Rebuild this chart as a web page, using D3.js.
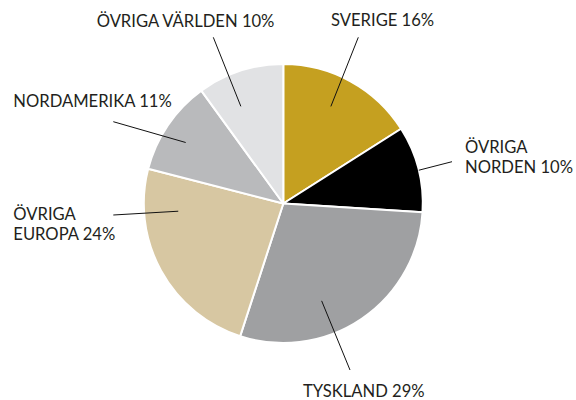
<!DOCTYPE html>
<html>
<head>
<meta charset="utf-8">
<script src="https://cdn.jsdelivr.net/npm/d3@7"></script>
<style>
  html, body { margin: 0; padding: 0; background: #fff; }
  svg { display: block; }
</style>
</head>
<body>
<div id="chart"></div>
<script>
// data, clockwise from 12 o'clock
const categories = ['SVERIGE', 'ÖVRIGA NORDEN', 'TYSKLAND', 'ÖVRIGA EUROPA', 'NORDAMERIKA', 'ÖVRIGA VÄRLDEN'];
const values = [16, 10, 29, 24, 11, 10];
const labelLines = [
  ['SVERIGE 16%'],
  ['ÖVRIGA', 'NORDEN 10%'],
  ['TYSKLAND 29%'],
  ['ÖVRIGA', 'EUROPA 24%'],
  ['NORDAMERIKA 11%'],
  ['ÖVRIGA VÄRLDEN 10%']
];
const colors = ['#c5a020', '#000000', '#9fa0a2', '#d7c7a2', '#b9babc', '#e1e2e4'];

// label placement: inner end of leader (angle in degrees clockwise from top, radius fraction),
// outer end of leader and text origin in page px
const labelLayout = [
  { a: 26.1, rf: 0.775, end: [358.3, 37.3], text: [331, 25.7] },
  { a: 76.2, rf: 1.0, end: [452, 161.7], text: [465, 153.3] },
  { a: 158.5, rf: 0.75, end: [350, 370], text: [303, 396.7] },
  { a: 265.8, rf: 0.755, end: [113.3, 215], text: [13.3, 220] },
  { a: 302, rf: 0.825, end: [113.3, 121.7], text: [13.3, 107.3] },
  { a: 336.4, rf: 0.76, end: [213.3, 37.3], text: [96.7, 26.7] }
];

const width = 576, height = 400;
const cx = 283.3, cy = 203.5, radius = 139.5;

const svg = d3.select('#chart').append('svg')
    .attr('width', width)
    .attr('height', height);

const table = categories.map((c, i) => ({ name: c, value: values[i], color: colors[i], lines: labelLines[i], layout: labelLayout[i] }));

const pie = d3.pie()
    .value(d => d.value)
    .sort(null);

const arc = d3.arc()
    .innerRadius(0)
    .outerRadius(radius);

const g = svg.append('g')
    .attr('transform', 'translate(' + cx + ',' + cy + ')');

g.selectAll('path.slice')
    .data(pie(table))
    .enter()
    .append('path')
    .attr('class', 'slice')
    .attr('d', arc)
    .attr('fill', d => d.data.color)
    .attr('stroke', '#fff')
    .attr('stroke-width', 2)
    .attr('stroke-linejoin', 'round');

// leader lines
const rScale = d3.scaleLinear().domain([0, 1]).range([0, radius]);
function inner(l) {
    const t = l.a * Math.PI / 180;
    const r = rScale(l.rf);
    return [cx + r * Math.sin(t), cy - r * Math.cos(t)];
}

svg.selectAll('line.leader')
    .data(table)
    .enter()
    .append('line')
    .attr('class', 'leader')
    .attr('x1', d => inner(d.layout)[0])
    .attr('y1', d => inner(d.layout)[1])
    .attr('x2', d => d.layout.end[0])
    .attr('y2', d => d.layout.end[1])
    .attr('stroke', '#111')
    .attr('stroke-width', 1);

// labels
const labels = svg.selectAll('text.label')
    .data(table)
    .enter()
    .append('text')
    .attr('class', 'label')
    .attr('x', d => d.layout.text[0])
    .attr('y', d => d.layout.text[1])
    .style('font-family', "Lato, 'Open Sans', sans-serif")
    .style('font-size', '16.6px')
    .style('fill', '#231f20');

labels.selectAll('tspan')
    .data(d => d.lines.map(t => ({ t: t, x: d.layout.text[0] })))
    .enter()
    .append('tspan')
    .attr('x', d => d.x)
    .attr('dy', (d, i) => i === 0 ? 0 : 20)
    .text(d => d.t);
</script>
</body>
</html>
